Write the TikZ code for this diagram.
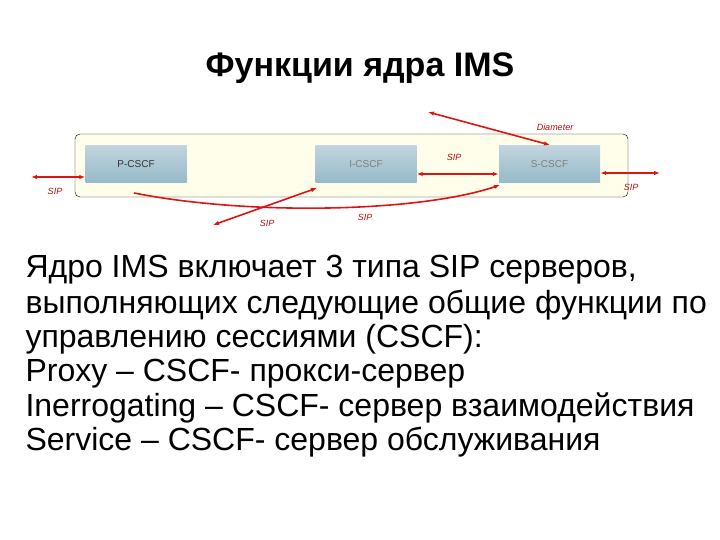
\documentclass[tikz,border=0pt]{standalone}
\usepackage{fontspec}
\setmainfont{Liberation Sans}
\usetikzlibrary{arrows.meta}
\definecolor{sred}{RGB}{220,20,20}
\definecolor{boxc}{RGB}{150,185,200}
\tikzset{
 cscf/.style={draw=none,top color=boxc!60,bottom color=boxc,minimum width=101pt,minimum height=37pt,font=\fontsize{10}{11}\selectfont},
 sip/.style={font=\fontsize{9}{10}\selectfont\itshape,text=sred!80!black},
 link/.style={draw=sred,line width=1.6pt,{Latex[length=6pt]}-{Latex[length=6pt]}},
 body/.style={anchor=west,font=\fontsize{32}{36}\selectfont}
}
\begin{document}
\begin{tikzpicture}[x=1pt,y=-1pt]
\useasboundingbox (0,0) rectangle (720,540);
\node[font=\bfseries\fontsize{34}{40}\selectfont] (title) at (360,68) {Функции ядра IMS};
\node[draw=black,rounded corners=5pt,fill=yellow!8,minimum width=553pt,minimum height=63pt] (frame) at (351.5,165.5) {};
\node[cscf,text=black!80] (p) at (136,164.5) {P-CSCF};
\node[cscf,text=black!50] (i) at (366,164.5) {I-CSCF};
\node[cscf,text=black!50] (s) at (549.5,164.5) {S-CSCF};
\coordinate (l) at (31,177);
\coordinate (r) at (660,173);
\coordinate (d) at (428,112);
\coordinate (x) at (213,225);
\draw[link] (l) -- (p.west|-l);
\draw[link] (s.east|-r) -- (r);
\draw[link] (i.east|-0,174) -- (s.west|-0,174);
\draw[link] (d) -- (550,145);
\draw[link] (x) -- (317,188);
\draw[sred,line width=1.6pt,-{Latex[length=6pt]}] (134,193) .. controls (250,216) and (420,212) .. (500,185);
\node[sip] (t1) at (55,191) {SIP};
\node[sip] (t2) at (631,187) {SIP};
\node[sip] (t3) at (454,157) {SIP};
\node[sip] (t4) at (267,223) {SIP};
\node[sip] (t5) at (365,217) {SIP};
\node[sip] (t6) at (555,127) {Diameter};
\node[body] (b1) at (22,270) {Ядро IMS включает 3 типа SIP серверов,};
\node[body] (b2) at (22,305) {выполняющих следующие общие функции по};
\node[body] (b3) at (22,339) {управлению сессиями (CSCF):};
\node[body] (b4) at (22,374) {Proxy – CSCF- прокси-сервер};
\node[body] (b5) at (22,408) {Inerrogating – CSCF- сервер взаимодействия};
\node[body] (b6) at (22,442) {Service – CSCF- сервер обслуживания};
\end{tikzpicture}
\end{document}
